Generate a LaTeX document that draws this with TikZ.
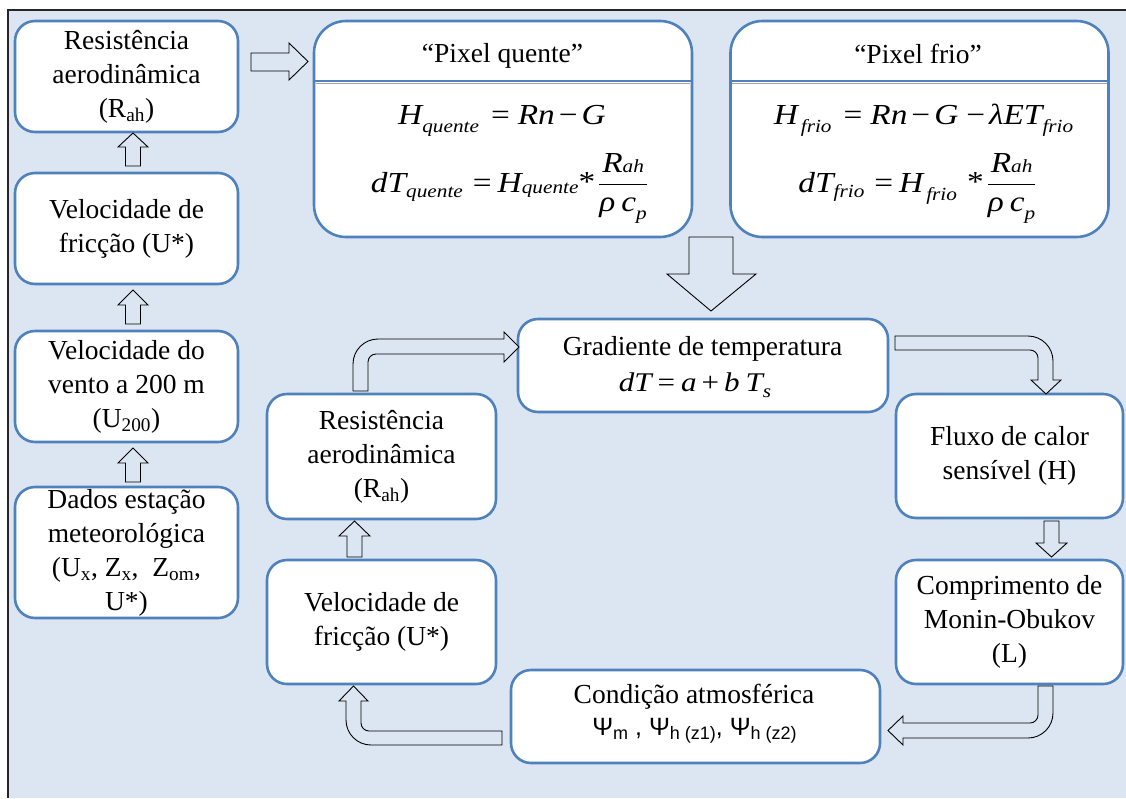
\RequirePackage{fix-cm}
\documentclass[tikz,border=0pt]{standalone}
\usepackage{fontspec}
\usepackage{amsmath}
\setmainfont{Liberation Serif}
\setsansfont{Liberation Sans}
\newfontfamily\eqfont{Liberation Serif}[FakeStretch=1.15]
\usetikzlibrary{calc}
\definecolor{bgblue}{HTML}{DCE6F2}
\definecolor{boxblue}{HTML}{4F81BD}
\newcommand\txt{\fontsize{27.5}{34}\selectfont}
\newcommand\eqf{\eqfont\fontsize{29}{34}\selectfont\itshape}
\newcommand\lsub[2][7]{\raisebox{-#1pt}{\fontsize{18.5}{20}\selectfont #2}}
\newcommand\op[1]{{\upshape #1}}
\newcommand\psisub[1]{\raisebox{-4pt}{\fontsize{18}{18}\selectfont #1}}
\newcommand\rahfrac{$\dfrac{\text{R\lsub[0]{ah}}}{\text{ρ\hspace{6pt}c\lsub[8]{p}}}$}
\begin{document}
\begin{tikzpicture}[x=1pt,y=-1pt,
  box/.style={draw=boxblue, line width=2.6pt, fill=white, rounded corners=20pt,
              inner sep=0pt, align=center, font=\txt},
  bigbox/.style={box, rounded corners=32pt, minimum width=378pt, minimum height=216pt},
  lbl/.style={inner sep=0pt, anchor=base, font=\txt},
  eq/.style={lbl, font=\eqf},
  blk/.style={draw=black, line width=0.9pt, fill=bgblue, line join=miter}]
\useasboundingbox (0,0) rectangle (1126,798);
\fill[bgblue] (8,10) rectangle (1126,798);
\draw[line width=1.6pt, black!85] (8,798) -- (8,10) -- (1126,10);

% left column
\node[box, minimum width=223pt, minimum height=111pt] (rah1) at (126.5,76.5)
  {Resistência\\aerodinâmica\\(R\textsubscript{ah})};
\node[box, minimum width=223pt, minimum height=111pt] (fric1) at (126.5,228.5)
  {Velocidade de\\fricção (U*)};
\node[box, minimum width=223pt, minimum height=111pt] (vento) at (126.5,386.5)
  {Velocidade do\\vento a 200 m\\(U\textsubscript{200})};
\node[box, minimum width=223pt, minimum height=131pt] (dados) at (126.5,552.5)
  {Dados estação\\meteorológica\\(U\textsubscript{x}, Z\textsubscript{x},\ \ Z\textsubscript{om},\\U*)};

% pixel boxes
\coordinate (dv) at (0,81);
\node[bigbox] (quente) at (503,129) {};
\draw[black!35, line width=1.2pt] ([xshift=3pt]quente.west |- 0,83.5) -- ([xshift=-3pt]quente.east |- 0,83.5);
\draw[boxblue, line width=2.6pt] (quente.west |- dv) -- (quente.east |- dv);
\node[lbl] (qtitle) at (502.5,62) {“Pixel quente”};
\node[eq] (qf1) at (502,124)
  {H\lsub[8]{quente}\hspace{12pt}\op{=}\hspace{8pt}Rn\hspace{4pt}\op{−}\hspace{4pt}G};
\node[eq] (qf2) at (509.5,192)
  {dT\lsub[5]{quente}\hspace{10pt}\op{=}\hspace{6pt}H\lsub[1]{quente}\op{\raisebox{1pt}{*}}\hspace{3pt}\rahfrac};

\node[bigbox] (frio) at (919.5,129) {};
\draw[black!35, line width=1.2pt] ([xshift=3pt]frio.west |- 0,83.5) -- ([xshift=-3pt]frio.east |- 0,83.5);
\draw[boxblue, line width=2.6pt] (frio.west |- dv) -- (frio.east |- dv);
\node[lbl] (ftitle) at (918,63) {“Pixel frio”};
\node[eq] (ff1) at (923.5,124)
  {H\hspace{3pt}\lsub[8]{frio}\hspace{12pt}\op{=}\hspace{8pt}Rn\hspace{4pt}\op{−}\hspace{4pt}G\hspace{8pt}\op{−}\hspace{4pt}λET\lsub[8]{frio}};
\node[eq] (ff2) at (917.5,192)
  {dT\lsub[5]{frio}\hspace{10pt}\op{=}\hspace{6pt}H\hspace{3pt}\lsub[8]{frio}\hspace{10pt}\op{\raisebox{1pt}{*}}\hspace{3pt}\rahfrac};

% loop boxes
\node[box, minimum width=370pt, minimum height=93pt] (grad) at (703,365.5) {};
\node[lbl] (gt) at (702.5,355) {Gradiente de temperatura};
\node[lbl, font=\eqfont\fontsize{27}{32}\selectfont\itshape] (gf) at (695,391)
  {dT\hspace{6pt}\op{=}\hspace{6pt}a\hspace{5pt}\op{+}\hspace{5pt}b\hspace{6pt}T\lsub[6]{s}};
\node[box, minimum width=227pt, minimum height=124pt] (fluxo) at (1009.5,456)
  {Fluxo de calor\\sensível (H)};
\node[box, minimum width=227pt, minimum height=124pt] (comp) at (1009.5,622)
  {Comprimento de\\Monin-Obukov\\(L)};
\node[box, minimum width=369pt, minimum height=93pt] (cond) at (695.5,716.5) {};
\node[lbl] (ct) at (694,703) {Condição atmosférica};
\node[lbl, font=\sffamily\fontsize{25}{30}\selectfont] (cf) at (694.5,735)
  {Ψ\psisub{m} , Ψ\psisub{h (z1)}, Ψ\psisub{h (z2)}};
\node[box, minimum width=229pt, minimum height=124pt] (fric2) at (381.5,622)
  {Velocidade de\\fricção (U*)};
\node[box, minimum width=229pt, minimum height=125pt] (rah2) at (381.5,456.5)
  {Resistência\\aerodinâmica\\(R\textsubscript{ah})};

% block arrows
\draw[blk] (251,53) -- (289,53) -- (289,43) -- (308,61.5) -- (289,80) -- (289,71) -- (251,71) -- cycle;
\draw[blk] (125.5,166) -- (125.5,147) -- (118,147) -- (133,133) -- (148,147) -- (140.5,147) -- (140.5,166) -- cycle;
\draw[blk] (125.5,324) -- (125.5,305) -- (118,305) -- (133,290) -- (148,305) -- (140.5,305) -- (140.5,324) -- cycle;
\draw[blk] (125.5,482) -- (125.5,463) -- (118,463) -- (133,448) -- (148,463) -- (140.5,463) -- (140.5,482) -- cycle;
% big down arrow
\draw[blk] (689,237) -- (733,237) -- (733,274) -- (756,274) -- (711,311) -- (667,274) -- (689,274) -- cycle;
% gradiente -> fluxo
\draw[blk] (895,336) -- (1028,336) .. controls (1041.8,336) and (1053,347.2) .. (1053,361)
  -- (1053,380) -- (1061,380) -- (1046,394) -- (1031,380) -- (1038,380) -- (1038,358)
  .. controls (1038,353.6) and (1034.4,350) .. (1030,350) -- (895,350) -- cycle;
% fluxo -> comprimento
\draw[blk] (1044,521) -- (1059,521) -- (1059,543) -- (1067,543) -- (1051.5,557) -- (1036,543) -- (1044,543) -- cycle;
% comprimento -> condicao
\draw[blk] (1038,686) -- (1053,686) -- (1053,713) .. controls (1053,726.8) and (1041.8,738) .. (1028,738)
  -- (903,738) -- (903,745) -- (888,730.5) -- (903,716) -- (903,723) -- (1030,723)
  .. controls (1034.4,723) and (1038,719.4) .. (1038,715) -- cycle;
% condicao -> friccao
\draw[blk] (502,731) -- (502,745) -- (371,745) .. controls (357.2,745) and (346,733.8) .. (346,720)
  -- (346,701) -- (339,701) -- (353.5,686) -- (368,701) -- (361,701) -- (361,723)
  .. controls (361,727.4) and (364.6,731) .. (369,731) -- cycle;
% friccao -> resistencia
\draw[blk] (347,557) -- (347,536) -- (339,536) -- (354.5,521) -- (370,536) -- (362,536) -- (362,557) -- cycle;
% resistencia -> gradiente
\draw[blk] (353,391) -- (353,364) .. controls (353,350.2) and (364.2,339) .. (378,339)
  -- (504,339) -- (504,332) -- (519,347) -- (504,362) -- (504,354) -- (376,354)
  .. controls (371.6,354) and (368,357.6) .. (368,362) -- (368,391) -- cycle;
\end{tikzpicture}
\end{document}
